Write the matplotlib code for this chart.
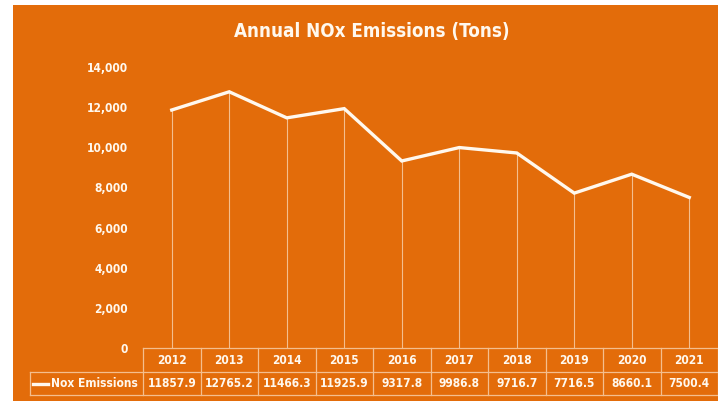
import matplotlib.pyplot as plt
from matplotlib.patches import Rectangle
from matplotlib.lines import Line2D
import matplotlib.transforms as mtransforms

years = ['2012', '2013', '2014', '2015', '2016', '2017', '2018', '2019', '2020', '2021']
nox = [11857.9, 12765.2, 11466.3, 11925.9, 9317.8, 9986.8, 9716.7, 7716.5, 8660.1, 7500.4]
yticks = [0, 2000, 4000, 6000, 8000, 10000, 12000, 14000]

W, H = 718, 401
orange = '#E36C0A'
grid = '#F4BE8E'
white = '#FFF8EE'
plt.rcParams['font.family'] = ['DejaVu Sans']
plt.rcParams['font.stretch'] = 'condensed'
fs = 8.6

def fx(x):
    return x / W

def fy(y):
    return 1 - y / H

fig = plt.figure(figsize=(W / 100, H / 100), dpi=100, facecolor='white')
fig.patches.append(Rectangle((fx(13), 0), 1, fy(5), transform=fig.transFigure,
                             facecolor=orange, edgecolor='none', zorder=-5))

ax = fig.add_axes([fx(143), fy(348), fx(718) - fx(143), fy(67) - fy(348)], zorder=2)
ax.set_facecolor('none')
x = list(range(len(years)))
ax.plot(x, nox, color=white, lw=2.4, solid_joinstyle='miter', zorder=3)
ax.vlines(x, 0, nox, color=grid, lw=0.8, zorder=2)
ax.set_xlim(-0.5, len(years) - 0.5)
ax.set_ylim(0, 14000)
ax.set_yticks(yticks)
ax.set_yticklabels(['{:,}'.format(v) for v in yticks], color=white,
                   fontsize=fs, fontweight='bold')
ax.tick_params(axis='y', length=0, pad=11)
ax.set_xticks([])
for s in ax.spines.values():
    s.set_visible(False)

fig.text(fx(372), fy(31), 'Annual NOx Emissions (Tons)', ha='center', va='center',
         color=white, fontsize=13.5, fontweight='bold')

# data table
tr = mtransforms.blended_transform_factory(ax.transData, fig.transFigure)
y0, y1, y2 = fy(348), fy(372), fy(395)
def hline(xa, xb, yy):
    fig.add_artist(Line2D([fx(xa), fx(xb)], [yy, yy], transform=fig.transFigure,
                          color=grid, lw=0.9))
def vline(xx, ya, yb):
    fig.add_artist(Line2D([fx(xx), fx(xx)], [ya, yb], transform=fig.transFigure,
                          color=grid, lw=0.9))
hline(143, 718, y0)
hline(30, 718, y1)
hline(30, 718, y2)
vline(30, y1, y2)
colw = (718 - 143) / len(years)
for i in range(len(years) + 1):
    vline(143 + i * colw, y0, y2)
for i, (yr, v) in enumerate(zip(years, nox)):
    fig.text(i, (y0 + y1) / 2, yr, transform=tr, ha='center', va='center',
             color=white, fontsize=fs, fontweight='bold')
    fig.text(i, (y1 + y2) / 2, str(v), transform=tr, ha='center', va='center',
             color=white, fontsize=fs, fontweight='bold')
fig.add_artist(Line2D([fx(33), fx(48)], [(y1 + y2) / 2] * 2, transform=fig.transFigure,
                      color=white, lw=2.4))
fig.text(fx(138), (y1 + y2) / 2, 'Nox Emissions', ha='right', va='center',
         color=white, fontsize=fs, fontweight='bold')

fig.savefig('out.png', dpi=100, facecolor='white')
